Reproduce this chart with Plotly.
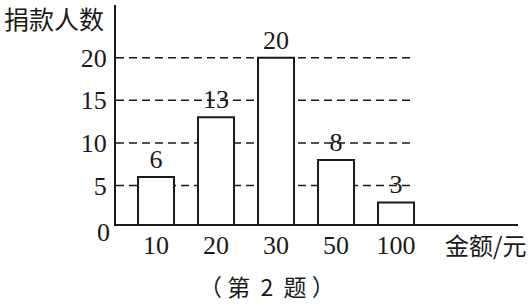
import plotly.graph_objects as go

categories = ["10", "20", "30", "50", "100"]
counts = [6, 13, 20, 8, 3]
grid_values = [5, 10, 15, 20]
y_tick_labels = ["5", "10", "15", "20"]
y_title = "捐款人数"
x_title = "金额/元"
caption = "（ 第  2  题 ）"

SERIF = "Liberation Serif"
CJK = "Noto Sans CJK SC"
INK = "#1a1a1a"

fig = go.Figure()
fig.add_trace(go.Bar(
    x=categories, y=counts, width=0.6,
    marker=dict(color="white", line=dict(color=INK, width=2)),
    text=[str(v) for v in counts], textposition="outside",
    textfont=dict(family=SERIF, size=26, color=INK),
    constraintext="none", cliponaxis=False,
))

for g in grid_values:
    fig.add_shape(type="line", xref="x", yref="y", x0=-0.667, x1=4.27, y0=g, y1=g,
                  line=dict(color=INK, width=1.5, dash="8px,5px"), layer="below")

fig.update_layout(
    width=531, height=305,
    margin=dict(l=116, r=13, t=5, b=81),
    paper_bgcolor="white", plot_bgcolor="white",
    showlegend=False, bargap=0.4,
    xaxis=dict(
        type="category", range=[-0.667, 6.033],
        showline=True, linecolor=INK, linewidth=2, showgrid=False, zeroline=False,
        ticks="", tickfont=dict(family=SERIF, size=26, color=INK), ticklabelstandoff=-3,
    ),
    yaxis=dict(
        range=[0.47, 26.2], tickvals=grid_values, ticktext=y_tick_labels,
        showline=True, linecolor=INK, linewidth=2, showgrid=False, zeroline=False,
        ticks="", tickfont=dict(family=SERIF, size=26, color=INK), ticklabelstandoff=2,
    ),
    annotations=[
        dict(text="0", xref="paper", yref="paper", x=-0.01, y=-0.04, xanchor="right", yanchor="middle",
             showarrow=False, font=dict(family=SERIF, size=26, color=INK)),
        dict(text=y_title, xref="paper", yref="paper", x=-0.155, y=0.94, xanchor="center", yanchor="middle",
             showarrow=False, font=dict(family=CJK, size=25, color=INK)),
        dict(text=x_title, xref="paper", yref="paper", x=0.92, y=-0.095, xanchor="center", yanchor="middle",
             showarrow=False, font=dict(family=CJK, size=24, color=INK)),
        dict(text=caption, xref="paper", yref="paper", x=0.376, y=-0.285, xanchor="center", yanchor="middle",
             showarrow=False, font=dict(family=CJK, size=23, color=INK)),
    ],
)

fig.write_html("out.html")
